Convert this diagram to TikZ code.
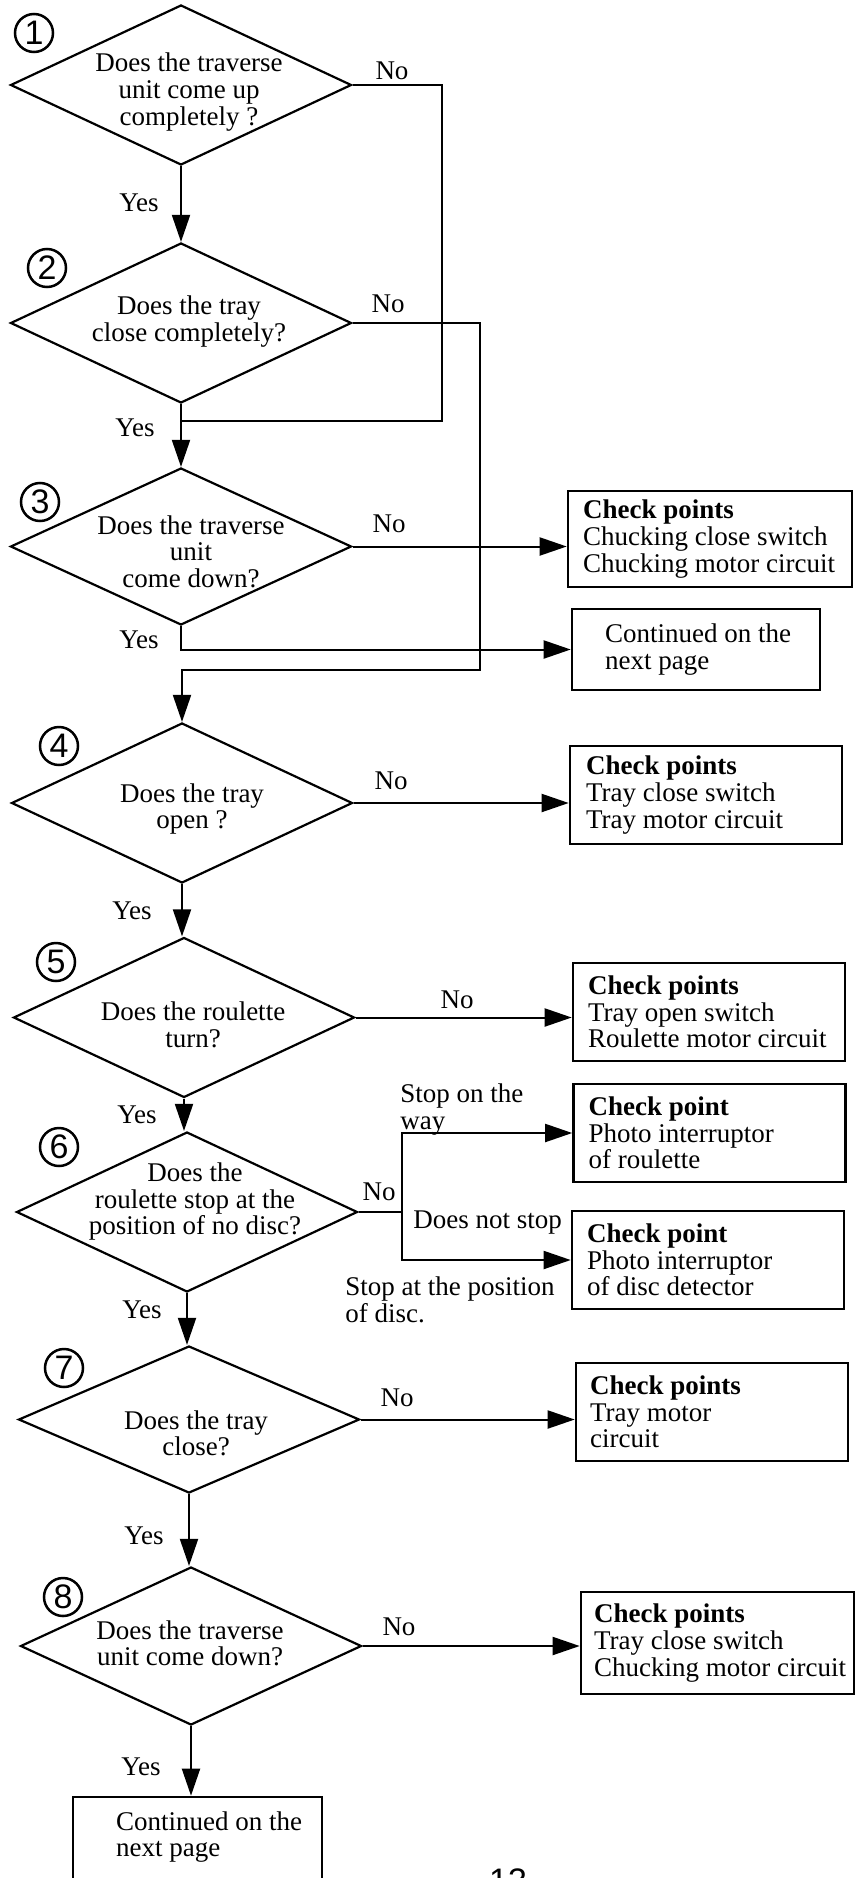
\documentclass[tikz,border=0pt]{standalone}
\usepackage{fontspec}
\setmainfont{Liberation Serif}
\newfontfamily\numfont{Liberation Sans}
\usetikzlibrary{shapes.geometric,arrows.meta,positioning}

\tikzset{
	decision/.style={diamond, draw, line width=1.1pt, minimum width=170.5pt, minimum height=80pt, inner sep=0pt},
	chkbox/.style={rectangle, draw, line width=1.3pt, minimum width=136pt, minimum height=49pt, inner sep=0pt},
	boxtext/.style={align=left, inner sep=0pt},
	question/.style={align=center, inner sep=0pt},
	lbl/.style={inner sep=0pt},
	num/.style={circle, draw, line width=1.25pt, minimum size=19pt, inner sep=0pt, font=\numfont\fontsize{17}{17}\selectfont},
	arr/.style={line width=1pt, -{Triangle[length=13.5pt, width=9pt]}},
	wire/.style={line width=1pt}
}

\begin{document}
\begin{tikzpicture}[x=0.5pt, y=-0.5pt, font=\fontsize{13.5}{13.3}\selectfont]
	\useasboundingbox (0,0) rectangle (855,1878);
	\clip (0,0) rectangle (855,1878);

	% questions
	\node [decision] (d1) at (181,85) {};
	\node [decision] (d2) at (181,323) {};
	\node [decision, minimum height=78.5pt] (d3) at (181,546.5) {};
	\node [decision] (d4) at (182,803) {};
	\node [decision] (d5) at (184,1017.5) {};
	\node [decision] (d6) at (187,1212) {};
	\node [decision, minimum height=73.5pt] (d7) at (189,1419.5) {};
	\node [decision, minimum height=79pt] (d8) at (191,1646) {};

	\node [question] (q1) at (189,92) {Does the traverse\\unit come up\\completely ?};
	\node [question] (q2) at (189,321.5) {Does the tray\\close completely?};
	\node [question] (q3) at (191,551.5) {Does the traverse\\unit\\come down?};
	\node [question] (q4) at (192,809) {Does the tray\\open ?};
	\node [question] (q5) at (193,1025) {Does the roulette\\turn?};
	\node [question] (q6) at (195,1201.5) {Does the\\roulette stop at the\\position of no disc?};
	\node [question] (q7) at (196,1433.5) {Does the tray\\close?};
	\node [question] (q8) at (190,1643.5) {Does the traverse\\unit come down?};

	\node [num] (n1) at (34,33) {1};
	\node [num] (n2) at (47,268) {2};
	\node [num] (n3) at (40,502) {3};
	\node [num] (n4) at (59,746) {4};
	\node [num] (n5) at (56,962) {5};
	\node [num] (n6) at (59,1147) {6};
	\node [num] (n7) at (64,1368) {7};
	\node [num] (n8) at (63,1597) {8};

	% check boxes
	\node [chkbox, minimum width=142pt, minimum height=48pt] (b3) at (710,539) {};
	\node [chkbox, minimum width=124pt, minimum height=40.5pt] (c3) at (696,649.5) {};
	\node [chkbox] (b4) at (706,795) {};
	\node [chkbox] (b5) at (709,1012) {};
	\node [chkbox] (b6a) at (709.5,1133) {};
	\node [chkbox] (b6b) at (708,1260) {};
	\node [chkbox] (b7) at (712,1412) {};
	\node [chkbox, minimum width=136.5pt, minimum height=51pt] (b8) at (717.5,1643) {};
	\node [chkbox, minimum width=124.5pt, minimum height=50pt] (endbox) at (197.5,1847) {};

	\node [boxtext, right=8pt of b3.west] (t3) {\textbf{Check points}\\Chucking close switch\\Chucking motor circuit};
	\node [boxtext, right=17pt of c3.west] (tc3) {Continued on the\\next page};
	\node [boxtext, right=8.5pt of b4.west] (t4) {\textbf{Check points}\\Tray close switch\\Tray motor circuit};
	\node [boxtext, right=8pt of b5.west] (t5) {\textbf{Check points}\\Tray open switch\\Roulette motor circuit};
	\node [boxtext, right=8pt of b6a.west] (t6a) {\textbf{Check point}\\Photo interruptor\\of roulette};
	\node [boxtext, right=8pt of b6b.west] (t6b) {\textbf{Check point}\\Photo interruptor\\of disc detector};
	\node [boxtext, right=7.5pt of b7.west] (t7) {\textbf{Check points}\\Tray motor\\circuit};
	\node [boxtext, right=7pt of b8.west] (t8) {\textbf{Check points}\\Tray close switch\\Chucking motor circuit};
	\node [boxtext, right=22pt of endbox.west, yshift=5pt] (tend) {Continued on the\\next page};

	% yes / no
	\node [lbl] (no1) at (392,71) {No};
	\node [lbl] (no2) at (388,304) {No};
	\node [lbl] (no3) at (389,524) {No};
	\node [lbl] (no4) at (391,781) {No};
	\node [lbl] (no5) at (457,1000) {No};
	\node [lbl] (no6) at (379,1192) {No};
	\node [lbl] (no7) at (397,1398) {No};
	\node [lbl] (no8) at (399,1627) {No};
	\node [lbl] (yes1) at (139,203) {Yes};
	\node [lbl] (yes2) at (135,428) {Yes};
	\node [lbl] (yes3) at (139,640) {Yes};
	\node [lbl] (yes4) at (132,911) {Yes};
	\node [lbl] (yes5) at (137,1115) {Yes};
	\node [lbl] (yes6) at (142,1310) {Yes};
	\node [lbl] (yes7) at (144,1536) {Yes};
	\node [lbl] (yes8) at (141,1767) {Yes};

	\node [boxtext, anchor=west] (way) at (400,1109.5) {Stop on the\\way};
	\node [boxtext, anchor=west] (nostop) at (413,1223) {Does not stop};
	\node [boxtext, anchor=west] (atdisc) at (345,1300) {Stop at the position\\of disc.};

	\node [font=\numfont\fontsize{17}{17}\selectfont, anchor=base] (pg) at (508,1892) {13};

	% connectors
	\coordinate (r1) at (442,421);
	\coordinate (r2) at (480,670);
	\coordinate (s6) at (402,1212);

	\draw [arr] (d1.south) -- (d2.north);
	\draw [wire] (d1.east) -| (r1) -- (r1 -| d2.south);
	\draw [arr] (d2.south) -- (d3.north);
	\draw [arr] (d2.east) -| (r2) -| (d4.north);
	\draw [arr] (d3.east) -- (d3.east -| b3.west);
	\draw [arr] (d3.south) |- (c3.west);
	\draw [arr] (d4.east) -- (d4.east -| b4.west);
	\draw [arr] (d4.south) -- (d4.south |- d5.north);
	\draw [arr] (d5.east) -- (d5.east -| b5.west);
	\draw [arr] (d5.south) -- (d5.south |- d6.north);
	\draw [wire] (d6.east) -- (s6);
	\draw [arr] (s6) |- (b6a.west);
	\draw [arr] (s6) |- (b6b.west);
	\draw [arr] (d6.south) -- (d6.south |- d7.north);
	\draw [arr] (d7.east) -- (d7.east -| b7.west);
	\draw [arr] (d7.south) -- (d7.south |- d8.north);
	\draw [arr] (d8.east) -- (d8.east -| b8.west);
	\draw [arr] (d8.south) -- (d8.south |- endbox.north);
\end{tikzpicture}
\end{document}
